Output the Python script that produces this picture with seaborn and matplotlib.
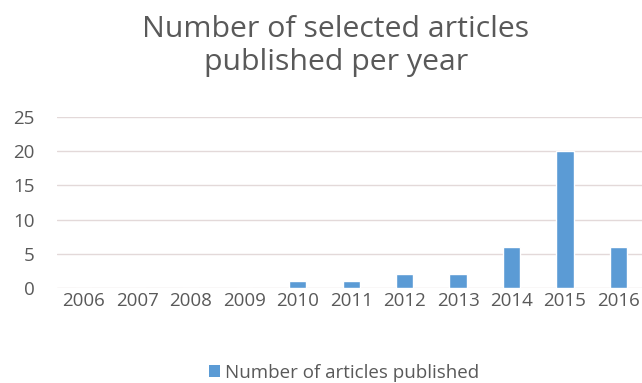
import matplotlib
matplotlib.use("Agg")
import matplotlib.pyplot as plt
import seaborn as sns
import pandas as pd
from matplotlib.patches import Patch

years = ["2006", "2007", "2008", "2009", "2010", "2011", "2012", "2013", "2014", "2015", "2016"]
counts = [0, 0, 0, 0, 1, 1, 2, 2, 6, 20, 6]
series_name = "Number of articles published"
title = "Number of selected articles\npublished per year"
y_ticks = [0, 5, 10, 15, 20, 25]

sns.set_theme(style="white")
plt.rcParams['font.family'] = ['Open Sans', 'DejaVu Sans']

bar_color = "#5B9BD5"
text_color = "#595959"

df = pd.DataFrame({"year": years, "count": counts})

fig = plt.figure(figsize=(6.42, 3.83), dpi=100)
ax = fig.add_axes([57 / 642, 1 - 288 / 383, 1 - 57 / 642, (288 - 117) / 383])
sns.barplot(data=df, x="year", y="count", color=bar_color, width=0.32,
            saturation=1, ax=ax)

ax.set_ylim(0, 25)
ax.set_xlim(-0.5, 10.44)
ax.set_yticks(y_ticks)
ax.set_yticklabels([str(t) for t in y_ticks], fontsize=13.5, color=text_color)
ax.tick_params(axis="x", labelsize=13.5, labelcolor=text_color, length=0, pad=3)
ax.tick_params(axis="y", length=0, pad=16)
ax.set_xlabel("")
ax.set_ylabel("")
ax.yaxis.grid(True, color="#e3d9d9", linewidth=1)
ax.set_axisbelow(True)
for s in ax.spines.values():
    s.set_visible(False)

fig.text(0.523, 0.880, title, ha="center", va="center", fontsize=21.8,
         color=text_color, linespacing=1.15)

fig.legend(handles=[Patch(facecolor=bar_color, edgecolor="none", label=series_name)],
           loc="center", bbox_to_anchor=(0.536, 0.026), frameon=False,
           fontsize=13.5, labelcolor=text_color, handlelength=0.6, handleheight=0.6,
           handletextpad=0.3)

fig.savefig("out.png", dpi=100)
